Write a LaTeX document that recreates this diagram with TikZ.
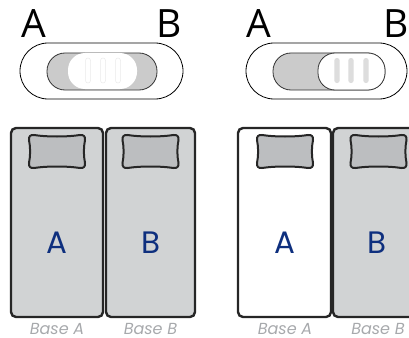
\documentclass[tikz,border=0pt]{standalone}
\usepackage{fontspec}
\setmainfont{Open Sans}
\newfontfamily\popfont{Poppins}
\usetikzlibrary{shapes.misc}
\definecolor{bedgray}{HTML}{D1D3D4}
\definecolor{pillowgray}{HTML}{BCBEC0}
\definecolor{trackgray}{HTML}{CBCBCB}
\definecolor{bedblue}{HTML}{0E2F7E}
\definecolor{basegray}{HTML}{A7A9AC}
\definecolor{ridge}{HTML}{DDDDDD}
\definecolor{ridgelight}{HTML}{EBEBEB}
\tikzset{
  toplabel/.style={font=\fontsize{39}{39}\selectfont, text=black, inner sep=0pt},
  outerpill/.style={draw=black, line width=0.8pt, fill=white, rounded corners=28pt},
  trackpill/.style={draw=black!80, line width=0.8pt, fill=trackgray, rounded corners=18pt},
  knobpill/.style={fill=white, rounded corners=17pt},
  ridgefaint/.style={draw=ridgelight, line width=0.5pt, fill=white, rounded corners=2.5pt},
  ridgefill/.style={fill=ridge, rounded corners=2.5pt},
  bedbox/.style={rectangle, draw=black!85, line width=2.4pt, rounded corners=5pt, inner sep=0pt},
  bedletter/.style={font=\popfont\fontsize{31}{31}\selectfont, text=bedblue, inner sep=0pt},
  baselabel/.style={font=\popfont\itshape\fontsize{16}{16}\selectfont, text=basegray, inner sep=0pt, anchor=base},
  pillow/.pic={
    \draw[line width=2pt, draw=black!85, fill=pillowgray]
      (-23,-16.5) .. controls (-10,-14.5) and (10,-14.5) .. (23,-16.5)
      .. controls (27,-16.5) and (28,-15.5) .. (28,-11.5)
      .. controls (26.5,-4) and (26.5,4) .. (28,11.5)
      .. controls (28,15.5) and (27,16.5) .. (23,16.5)
      .. controls (10,14.5) and (-10,14.5) .. (-23,16.5)
      .. controls (-27,16.5) and (-28,15.5) .. (-28,11.5)
      .. controls (-26.5,4) and (-26.5,-4) .. (-28,-11.5)
      .. controls (-28,-15.5) and (-27,-16.5) .. (-23,-16.5) -- cycle;
  }
}
\begin{document}
\begin{tikzpicture}[x=1pt, y=-1pt]
\useasboundingbox (0,0) rectangle (409,337);
\clip (0,0) rectangle (409,337);

% ---------- left panel: toggle ----------
\node[toplabel] (lA) at (34,24) {A};
\node[toplabel] (lB) at (169,24) {B};
\draw[outerpill] (20,43) rectangle (183,99);
\draw[trackpill] (47,53) rectangle (157,90);
\fill[knobpill] (68,53) rectangle (137,89);
\foreach \x in {88,103,118} \draw[ridgefaint] (\x-2.5,58) rectangle (\x+2.5,83);

% ---------- right panel: toggle ----------
\node[toplabel] (rA) at (259,24) {A};
\node[toplabel] (rB) at (396,24) {B};
\draw[outerpill] (246,43) rectangle (407,99);
\draw[trackpill] (273,53) rectangle (385,90);
\draw[knobpill, draw=black!80, line width=0.8pt] (318,53) rectangle (385,90);
\foreach \x in {337,351,366} \fill[ridgefill] (\x-2.7,58) rectangle (\x+2.7,83);

% ---------- left panel: beds ----------
\node[bedbox, fill=bedgray, minimum width=92pt, minimum height=189pt] (lbedA) at (57,222.5) {};
\node[bedbox, fill=bedgray, minimum width=89pt, minimum height=189pt] (lbedB) at (150.5,222.5) {};
\pic at (57,151.5) {pillow};
\pic at (150.5,151.5) {pillow};
\node[bedletter] (lbA) at (57,243) {A};
\node[bedletter] (lbB) at (150.5,243) {B};
\node[baselabel] (lbaseA) at (57,334) {Base A};
\node[baselabel] (lbaseB) at (150.5,334) {Base B};

% ---------- right panel: beds ----------
\node[bedbox, fill=white, minimum width=93pt, minimum height=189pt] (rbedA) at (284.5,222.5) {};
\node[bedbox, fill=bedgray, minimum width=93pt, minimum height=189pt] (rbedB) at (379.5,222.5) {};
\pic at (285,151.5) {pillow};
\pic at (378.5,151.5) {pillow};
\node[bedletter] (rbA) at (284.5,243) {A};
\node[bedletter] (rbB) at (377,243) {B};
\node[baselabel] (rbaseA) at (285,334) {Base A};
\node[baselabel] (rbaseB) at (378,334) {Base B};
\end{tikzpicture}
\end{document}
